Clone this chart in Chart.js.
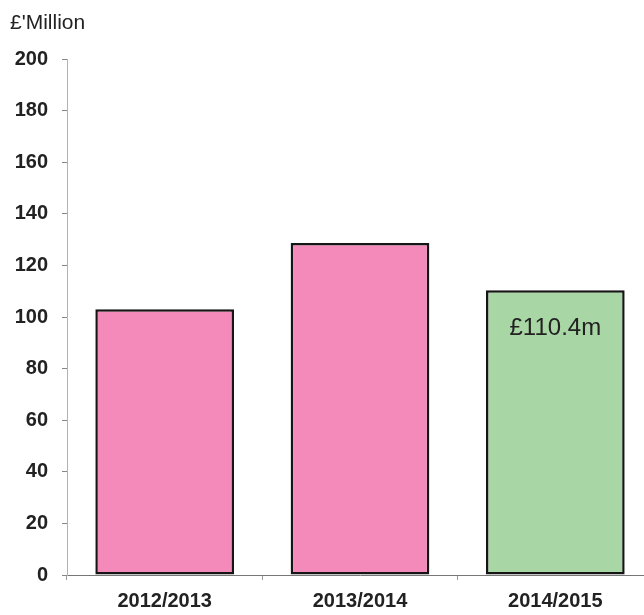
<!DOCTYPE html>
<html>
<head>
<meta charset="utf-8">
<script src="https://cdn.jsdelivr.net/npm/chart.js@4.4.1/dist/chart.umd.min.js"></script>
<style>
  html, body { margin: 0; padding: 0; background: #fff; overflow: hidden; }
  #wrap { position: relative; width: 653px; height: 615px; }
</style>
</head>
<body>
<div id="wrap"><canvas id="spendChart" width="653" height="615"></canvas></div>
<script>
// spend per financial year, £ million
const years = ["2012/2013", "2013/2014", "2014/2015"];
const spend = [103, 128.7, 110.4];
const barColours = ["#f48ab9", "#f48ab9", "#a9d6a5"];
const yTicks = [0, 20, 40, 60, 80, 100, 120, 140, 160, 180, 200];
const valueLabels = ["", "", "£110.4m"];

const fontFamily = "'Liberation Sans', Arial, sans-serif";

// writes the unit caption and the value inside the last bar
const textPlugin = {
  id: "textPlugin",
  afterDatasetsDraw(chart) {
    const ctx = chart.ctx;
    ctx.save();
    ctx.fillStyle = "#222";
    ctx.font = "21px " + fontFamily;
    ctx.textAlign = "left";
    ctx.textBaseline = "middle";
    ctx.fillText("£'Million", 10, 23);

    const meta = chart.getDatasetMeta(0);
    ctx.font = "24px " + fontFamily;
    ctx.textAlign = "center";
    meta.data.forEach((bar, i) => {
      if (!valueLabels[i]) return;
      ctx.fillText(valueLabels[i], bar.x, bar.y + 38);
    });
    ctx.restore();
  }
};

const ctx = document.getElementById("spendChart").getContext("2d");
new Chart(ctx, {
  type: "bar",
  data: {
    labels: years,
    datasets: [{
      data: spend,
      backgroundColor: barColours,
      borderColor: "#151515",
      borderWidth: 2.5,
      borderSkipped: false,
      barPercentage: 0.71,
      categoryPercentage: 1
    }]
  },
  options: {
    responsive: false,
    animation: false,
    layout: { padding: { top: 59, right: 0, left: 0, bottom: 0 } },
    plugins: {
      legend: { display: false },
      tooltip: { enabled: false }
    },
    scales: {
      x: {
        offset: true,
        grid: {
          offset: true,
          drawOnChartArea: false,
          tickLength: 5,
          color: "#999"
        },
        border: { color: "#777", width: 1 },
        ticks: {
          color: "#222",
          padding: 9,
          font: { family: fontFamily, size: 20, weight: "bold" }
        },
        afterFit(scale) { scale.height = 40; }
      },
      y: {
        min: 0,
        max: 200,
        afterBuildTicks(scale) { scale.ticks = yTicks.map(v => ({ value: v })); },
        grid: {
          drawOnChartArea: false,
          tickLength: 5,
          color: "#888"
        },
        border: { color: "#aab4c0", width: 1 },
        ticks: {
          color: "#222",
          padding: 14,
          font: { family: fontFamily, size: 20, weight: "bold" }
        },
        afterFit(scale) { scale.width = 67; }
      }
    }
  },
  plugins: [textPlugin]
});
</script>
</body>
</html>
